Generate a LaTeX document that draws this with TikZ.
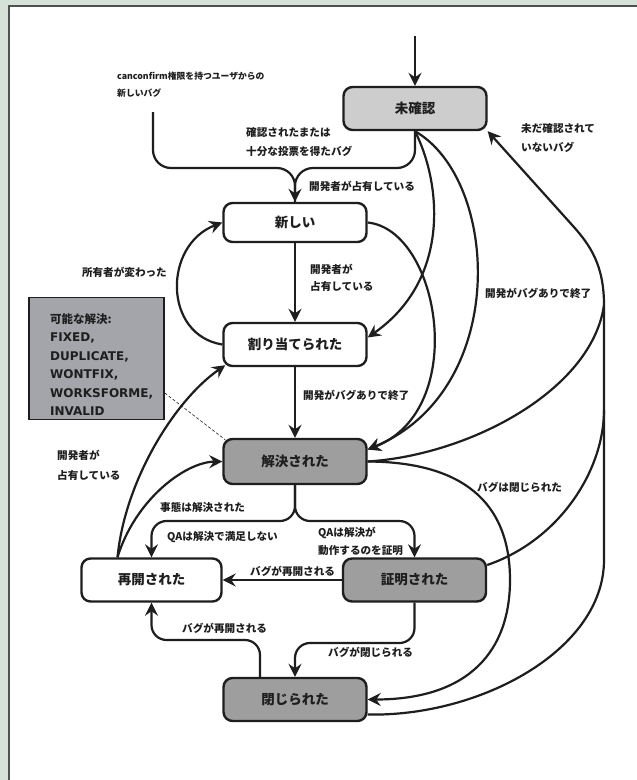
\documentclass[tikz,border=0pt]{standalone}
\usepackage{fontspec}
\setmainfont{Noto Sans CJK JP}
\newfontfamily\notelat{DejaVu Sans}
\usetikzlibrary{arrows.meta}
\definecolor{bgband}{RGB}{214,226,216}
\definecolor{framecol}{RGB}{80,80,80}
\definecolor{lightfill}{RGB}{205,205,205}
\definecolor{darkfill}{RGB}{158,158,158}
\definecolor{notefill}{RGB}{163,165,170}
\definecolor{ink}{RGB}{30,30,30}
\begin{document}
\begin{tikzpicture}[x=1pt,y=-1pt,
  state/.style={draw=ink, line width=2.4pt, rounded corners=9pt, minimum width=143pt,
    minimum height=43pt, font=\fontsize{13.5}{16}\selectfont\bfseries, text=ink, inner sep=0pt},
  edge/.style={draw=ink, line width=2.2pt, -{Stealth[length=13pt,width=13pt,inset=4.5pt]}},
  plain/.style={draw=ink, line width=2.2pt},
  lbl/.style={font=\fontsize{10.6}{18}\selectfont\bfseries, text=ink, align=left, anchor=west, inner sep=0pt},
  notecjk/.style={font=\fontsize{11.5}{14}\selectfont\bfseries, text=ink, anchor=base west, inner sep=0pt},
  notelatin/.style={font=\notelat\fontsize{12}{14}\selectfont\bfseries, text=ink, anchor=base west, inner sep=0pt},
]
\useasboundingbox (0,0) rectangle (637,780);
\fill[bgband] (0,0) rectangle (637,780);
\fill[white] (9,6) rectangle (637,780);
\draw[framecol, line width=2pt] (9,780) -- (9,6) -- (637,6);

% states
\node[state, fill=lightfill] (U) at (415,108.5) {未確認};
\node[state, fill=white, minimum height=39pt] (N) at (295,222.5) {新しい};
\node[state, fill=white] (A) at (295,344.5) {割り当てられた};
\node[state, fill=darkfill, minimum height=45pt] (R) at (295,461.5) {解決された};
\node[state, fill=white, minimum width=140pt] (RO) at (151.5,580) {再開された};
\node[state, fill=darkfill] (V) at (414.5,580) {証明された};
\node[state, fill=darkfill] (C) at (295,699.5) {閉じられた};

% note
\node[draw=ink, line width=1.5pt, fill=notefill, minimum width=135pt, minimum height=122pt, inner sep=0pt] (note) at (96.5,358.5) {};
\node[notecjk] (n1) at (50,323) {可能な解決:};
\node[notelatin] (n2) at (50,341.6) {FIXED,};
\node[notelatin] (n3) at (50,360.2) {DUPLICATE,};
\node[notelatin] (n4) at (50,378.8) {WONTFIX,};
\node[notelatin] (n5) at (50,397.4) {WORKSFORME,};
\node[notelatin] (n6) at (50,415) {INVALID};

% coordinates
\coordinate (src) at (415,36);
\coordinate (cc) at (153,112);
\coordinate (hy) at (0,168);
\coordinate (hs) at (0,521);
\coordinate (hv) at (0,643);
\coordinate (hc) at (0,640);
\coordinate (mg1) at (604,305);
\coordinate (mg2) at (604,410);

% edges
\draw[edge] (src) -- (U.north);
\draw[plain, rounded corners=18pt] (cc) |- (N.north |- hy) -- (N.north);
\draw[edge, rounded corners=18pt] (U.south) |- (N.north |- hy) -- (N.north);
\draw[edge] (U.south) .. controls (442,185) and (450,280) .. ([yshift=7pt]A.east);
\draw[edge] (N.east) .. controls (440,230) and (470,410) .. ([yshift=12pt]R.east);
\draw[edge] (U.south) .. controls (500,180) and (510,390) .. ([yshift=12pt]R.east);
\draw[edge] (N.south) -- (A.north);
\draw[edge] (A.south) -- (R.north);
\draw[edge] (A.west) .. controls (163,335) and (163,245) .. (N.west);

% trunk to U
\draw[edge] ([yshift=-15pt]C.east) .. controls (480,717) and (604,650) .. (604,560) -- (mg2) -- (mg1)
   .. controls (604,265) and (590,245) .. (573,226) -- (U.south east);
\draw[plain] (R.east) .. controls (470,455) and (592,390) .. (mg1);
\draw[plain] ([yshift=15pt]V.east) .. controls (560,540) and (604,470) .. (mg2);

\draw[edge] (R.east) .. controls (460,462) and (510,500) .. (510,580) .. controls (510,650) and (470,699.5) .. (C.east);
\draw[edge, rounded corners=15pt] (R.south) |- (RO.north |- hs) -- (RO.north);
\draw[edge, rounded corners=15pt] (R.south) |- (V.north |- hs) -- (V.north);
\draw[edge] (V.west) -- (RO.east);
\draw[edge, rounded corners=15pt] (V.south) |- (C.north |- hv) -- (C.north);
\draw[edge, rounded corners=15pt] ([xshift=-35pt]C.north) |- (RO.south |- hc) -- (RO.south);
\draw[edge] ([xshift=-34pt]RO.north) .. controls (125,480) and (175,400) .. ([xshift=3pt,yshift=2pt]A.south west);
\draw[edge] ([xshift=-34pt]RO.north) .. controls (135,500) and (185,462) .. (R.west);
\draw[ink, line width=0.6pt, dash pattern=on 3pt off 2pt] ([yshift=-34.5pt]note.east) -- ([xshift=3pt,yshift=-2pt]R.north west);

% labels
\node[lbl, font=\fontsize{8.8}{17}\selectfont\bfseries] (L1) at (117,84.5) {canconfirm権限を持つユーザからの\\新しいバグ};
\node[lbl, font=\fontsize{10.6}{19}\selectfont\bfseries] (L2) at (246,142.5) {確認されたまたは\\十分な投票を得たバグ};
\node[lbl] (L3) at (309,186) {開発者が占有している};
\node[lbl, font=\fontsize{10.6}{17}\selectfont\bfseries] (L4) at (310,278) {開発者が\\占有している};
\node[lbl, anchor=east] (L5) at (167,272) {所有者が変わった};
\node[lbl] (L6) at (303,395) {開発がバグありで終了};
\node[lbl] (L7) at (485,293) {開発がバグありで終了};
\node[lbl, font=\fontsize{10.6}{19}\selectfont\bfseries] (L8) at (521,137.5) {未だ確認されて\\いないバグ};
\node[lbl, font=\fontsize{10.6}{20}\selectfont\bfseries] (L9) at (57,465) {開発者が\\占有している};
\node[lbl] (L10) at (160,507) {事態は解決された};
\node[lbl] (L11) at (167,537) {QAは解決で満足しない};
\node[lbl] (L12) at (318,541) {QAは解決が\\動作するのを証明};
\node[lbl] (L13) at (477,487) {バグは閉じられた};
\node[lbl] (L14) at (250,571) {バグが再開される};
\node[lbl] (L15) at (182,628) {バグが再開される};
\node[lbl] (L16) at (328,652) {バグが閉じられる};
\end{tikzpicture}
\end{document}
